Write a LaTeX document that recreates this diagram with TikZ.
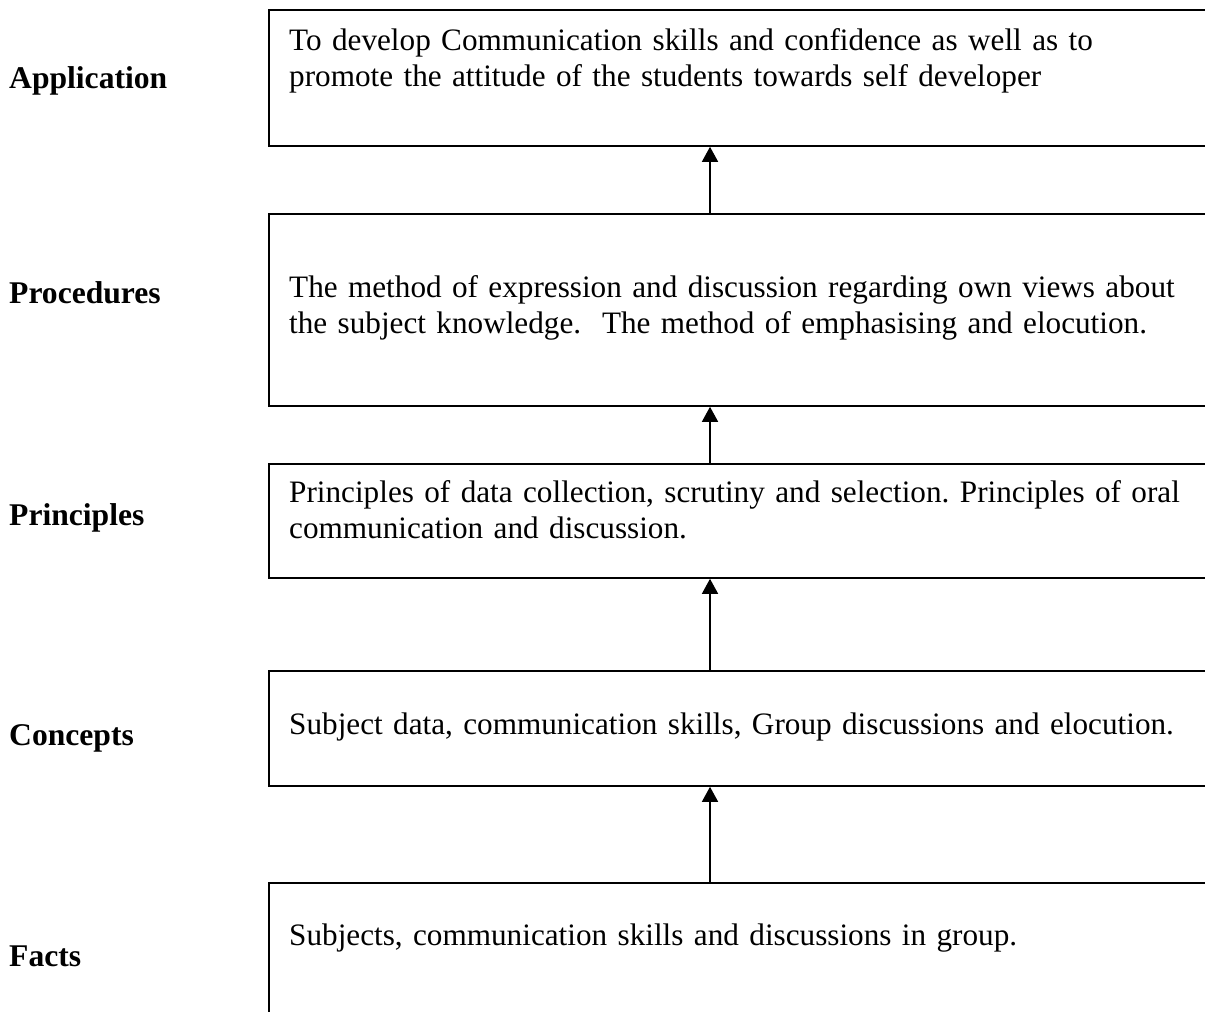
\documentclass[tikz,border=0pt]{standalone}
\usepackage{fontspec}
\setmainfont{Liberation Serif}
\usetikzlibrary{arrows.meta}
\frenchspacing
\begin{document}
\begin{tikzpicture}[x=1pt,y=-1pt,
  box/.style={draw, line width=1.8pt, rectangle, minimum width=1000pt, anchor=north west, inner sep=0pt},
  lbl/.style={anchor=base west, inner sep=0pt, font=\fontsize{31.6}{36.8}\selectfont\bfseries},
  txt/.style={anchor=base west, inner sep=0pt, text width=1100pt, align=left, font=\fontsize{31.2}{36}\selectfont},
  arr/.style={line width=1.5pt, -{Triangle[width=16pt,length=15pt]}}]
\clip (0,0) rectangle (1205,1012);
\fill[white] (0,0) rectangle (1205,1012);
% boxes
\node[box, minimum height=136pt] (b1) at (268,9) {};
\node[box, minimum height=192pt] (b2) at (268,213) {};
\node[box, minimum height=114pt] (b3) at (268,463) {};
\node[box, minimum height=115pt] (b4) at (268,670) {};
\node[box, minimum height=200pt] (b5) at (268,882) {};
% texts
\node[txt] (t1) at (289,50) {To develop Communication skills and confidence as well as to\\promote the attitude of the students towards self developer};
\node[txt] (t2) at (289,297) {The method of expression and discussion regarding own views about\\the subject knowledge.\ \ The method of emphasising and elocution.};
\node[txt] (t3) at (289,502) {Principles of data collection, scrutiny and selection. Principles of oral\\communication and discussion.};
\node[txt] (t4) at (289,734) {Subject data, communication skills, Group discussions and elocution.};
\node[txt] (t5) at (289,945) {Subjects, communication skills and discussions in group.};
% labels
\node[lbl] (l1) at (9,88) {Application};
\node[lbl] (l2) at (9,303) {Procedures};
\node[lbl] (l3) at (9,525) {Principles};
\node[lbl] (l4) at (9,745) {Concepts};
\node[lbl] (l5) at (9,966) {Facts};
% arrows
\draw[arr] ([xshift=442pt]b2.north west) -- ([xshift=442pt]b1.south west);
\draw[arr] ([xshift=442pt]b3.north west) -- ([xshift=442pt]b2.south west);
\draw[arr] ([xshift=442pt]b4.north west) -- ([xshift=442pt]b3.south west);
\draw[arr] ([xshift=442pt]b5.north west) -- ([xshift=442pt]b4.south west);
\end{tikzpicture}
\end{document}
